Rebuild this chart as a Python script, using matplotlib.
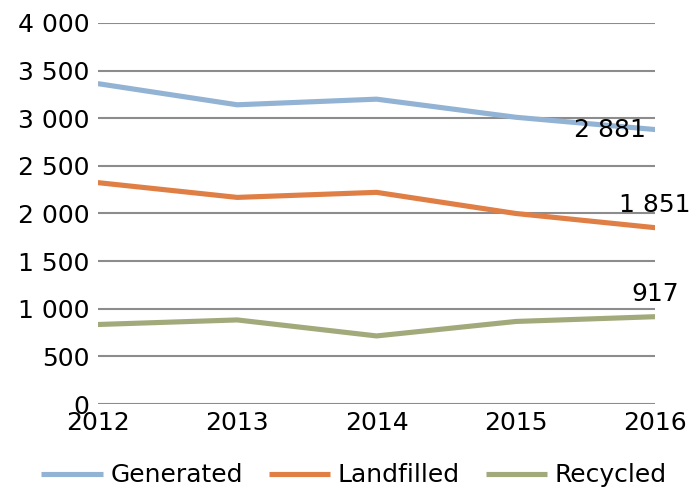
import matplotlib.pyplot as plt

years = [2012, 2013, 2014, 2015, 2016]
generated = [3363, 3141, 3200, 3010, 2881]
landfilled = [2324, 2169, 2222, 2000, 1851]
recycled = [835, 883, 715, 867, 917]

plt.rcParams['font.family'] = 'DejaVu Sans'

fig = plt.figure(figsize=(6.89, 4.88), dpi=100)
ax = fig.add_axes([0.142, 0.172, 0.809, 0.781])

ax.plot(years, generated, color='#93b3d4', lw=3.7, label='Generated', solid_capstyle='butt')
ax.plot(years, landfilled, color='#e07f45', lw=3.7, label='Landfilled', solid_capstyle='butt')
ax.plot(years, recycled, color='#a2aa7c', lw=3.7, label='Recycled', solid_capstyle='butt')

def fmt(v):
    return '{:,}'.format(v).replace(',', ' ')

fs = 18
ax.annotate(fmt(generated[-1]), (years[-1], generated[-1]), xytext=(-7, 0),
            textcoords='offset points', ha='right', va='center', fontsize=fs)
ax.annotate(fmt(landfilled[-1]), (years[-1], landfilled[-1]), xytext=(0, 16),
            textcoords='offset points', ha='center', va='center', fontsize=fs)
ax.annotate(fmt(recycled[-1]), (years[-1], recycled[-1]), xytext=(0, 16),
            textcoords='offset points', ha='center', va='center', fontsize=fs)

ax.set_xlim(2012, 2016)
ax.set_ylim(0, 4000)
ax.set_xticks(years)
ax.set_yticks(range(0, 4001, 500))
ax.set_yticklabels([fmt(v) for v in range(0, 4001, 500)])
ax.tick_params(length=0, labelsize=fs, pad=6)
ax.tick_params(axis='x', pad=5)
ax.grid(axis='y', color='#8c8c8c', lw=1.5)
ax.set_axisbelow(True)
for s in ax.spines.values():
    s.set_visible(False)

ax.legend(loc='center', bbox_to_anchor=(0.46, -0.187), ncol=3, frameon=False,
          fontsize=fs, handlelength=2.45, columnspacing=1.05, handletextpad=0.3,
          borderpad=0, borderaxespad=0)

fig.savefig('out.png', dpi=100)
